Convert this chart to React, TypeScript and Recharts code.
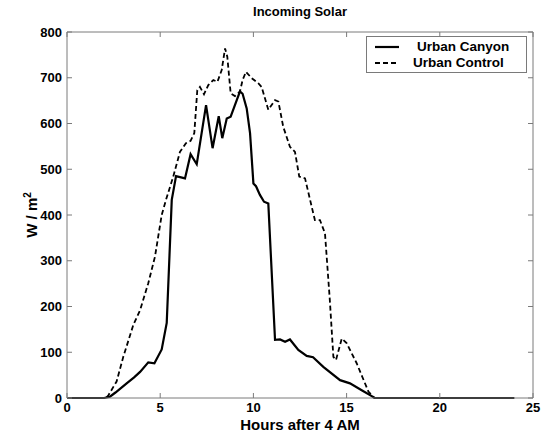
import React from "react";
import { LineChart, Line, XAxis, YAxis } from "recharts";

// Incoming solar radiation, urban canyon vs. urban control site
const canyonHours = [0, 2.0, 2.3, 2.6, 3.2, 3.6, 3.92, 4.36, 4.69, 5.08, 5.35, 5.62, 5.85, 6.33, 6.63, 6.96, 7.46, 7.81, 8.14, 8.33, 8.57, 8.78, 9.28, 9.42, 9.64, 9.82, 10.0, 10.14, 10.35, 10.57, 10.8, 11.16, 11.43, 11.7, 11.96, 12.41, 12.86, 13.2, 13.75, 14.65, 15.18, 15.81, 16.35, 16.5, 24];
const canyonValues = [0, 0, 3, 12, 32, 45, 57, 78, 76, 106, 164, 433, 485, 480, 533, 511, 640, 546, 616, 568, 611, 615, 670, 665, 633, 579, 469, 463, 444, 429, 425, 127, 128, 123, 128, 105, 92, 89, 68, 39, 32, 17, 4, 0, 0];

const controlHours = [0, 2.1, 2.22, 2.66, 3.02, 3.56, 3.92, 4.36, 4.72, 5.08, 5.31, 5.7, 6.06, 6.38, 6.63, 6.83, 6.99, 7.13, 7.35, 7.58, 7.85, 8.07, 8.3, 8.48, 8.6, 8.78, 9.01, 9.28, 9.42, 9.6, 9.91, 10.26, 10.44, 10.8, 11.16, 11.34, 11.6, 11.96, 12.23, 12.46, 12.77, 13.21, 13.3, 13.57, 13.84, 14.1, 14.29, 14.43, 14.74, 15.0, 15.54, 16.17, 16.5, 24];
const controlValues = [0, 0, 6, 36, 90, 160, 192, 251, 309, 400, 433, 484, 538, 557, 562, 579, 673, 680, 664, 684, 695, 691, 717, 764, 746, 666, 660, 670, 695, 713, 699, 688, 680, 630, 651, 648, 593, 549, 538, 484, 480, 404, 389, 389, 360, 214, 90, 83, 130, 120, 76, 14, 0, 0];

const xTicks = [0, 5, 10, 15, 20, 25];
const yTicks = [0, 100, 200, 300, 400, 500, 600, 700, 800];

const canyonData = canyonHours.map((h, i) => ({ h, v: canyonValues[i] }));
const controlData = controlHours.map((h, i) => ({ h, v: controlValues[i] }));

const FONT = "Arial, 'Liberation Sans', Helvetica, sans-serif";
const FRAME = "#7a7a7a";
const tickStyle = { fill: "#000", fontSize: 13, fontWeight: 700, fontFamily: FONT };
const blank = () => "";

export default function App() {
  return (
    <div style={{ position: "relative", width: 541, height: 436, background: "#fff", fontFamily: FONT }}>
      <style>{`body{margin:0}`}</style>

      <div style={{ position: "absolute", left: 67, width: 466, top: 4, textAlign: "center", fontSize: 13, lineHeight: "15px", fontWeight: 700 }}>
        Incoming Solar
      </div>

      <LineChart
        width={541}
        height={436}
        margin={{ top: 31, right: 7, bottom: 8, left: 27 }}
      >
        <XAxis
          xAxisId="b"
          type="number"
          dataKey="h"
          domain={[0, 25]}
          ticks={xTicks}
          allowDataOverflow
          height={30}
          stroke={FRAME}
          tickSize={-5}
          tickMargin={10}
          tick={tickStyle}
        />
        <XAxis
          xAxisId="t"
          orientation="top"
          type="number"
          dataKey="h"
          domain={[0, 25]}
          ticks={xTicks}
          allowDataOverflow
          height={1}
          stroke={FRAME}
          tickSize={-5}
          tickFormatter={blank}
        />
        <YAxis
          yAxisId="l"
          domain={[0, 800]}
          ticks={yTicks}
          width={40}
          stroke={FRAME}
          tickSize={-5}
          tickMargin={10}
          tick={tickStyle}
        />
        <YAxis
          yAxisId="r"
          orientation="right"
          domain={[0, 800]}
          ticks={yTicks}
          allowDataOverflow
          width={1}
          stroke={FRAME}
          tickSize={-5}
          tickFormatter={blank}
        />
        {/* invisible series so the top/right frame axes get drawn */}
        <Line
          xAxisId="t"
          yAxisId="r"
          data={canyonData}
          dataKey="v"
          stroke="none"
          dot={false}
          activeDot={false}
          legendType="none"
          isAnimationActive={false}
        />
        <Line
          xAxisId="b"
          yAxisId="l"
          data={controlData}
          dataKey="v"
          type="linear"
          stroke="#000"
          strokeWidth={1.8}
          strokeDasharray="5 3"
          dot={false}
          isAnimationActive={false}
        />
        <Line
          xAxisId="b"
          yAxisId="l"
          data={canyonData}
          dataKey="v"
          type="linear"
          stroke="#000"
          strokeWidth={2.2}
          dot={false}
          isAnimationActive={false}
        />
      </LineChart>

      <div style={{ position: "absolute", left: 67, width: 466, top: 417, textAlign: "center", fontSize: 15, lineHeight: "16px", fontWeight: 700 }}>
        Hours after 4 AM
      </div>

      <div
        style={{
          position: "absolute",
          left: 30,
          top: 215,
          transform: "translate(-50%, -50%) rotate(-90deg)",
          whiteSpace: "nowrap",
          fontSize: 15,
          lineHeight: "18px",
          fontWeight: 700,
        }}
      >
        W / m<sup style={{ fontSize: 10 }}>2</sup>
      </div>

      {/* Legend */}
      <div
        style={{
          position: "absolute",
          left: 366,
          top: 36,
          width: 159,
          height: 35,
          border: `1px solid ${FRAME}`,
          background: "#fff",
          fontSize: 13.5,
          fontWeight: 700,
        }}
      >
        <svg width={40} height={35} style={{ position: "absolute", left: 0, top: 0 }}>
          <line x1={8} x2={32} y1={10} y2={10} stroke="#000" strokeWidth={2.2} />
          <line x1={8} x2={32} y1={26} y2={26} stroke="#000" strokeWidth={1.8} strokeDasharray="5 3" />
        </svg>
        <div style={{ position: "absolute", left: 50, top: 2 }}>Urban Canyon</div>
        <div style={{ position: "absolute", left: 46, top: 18 }}>Urban Control</div>
      </div>
    </div>
  );
}
